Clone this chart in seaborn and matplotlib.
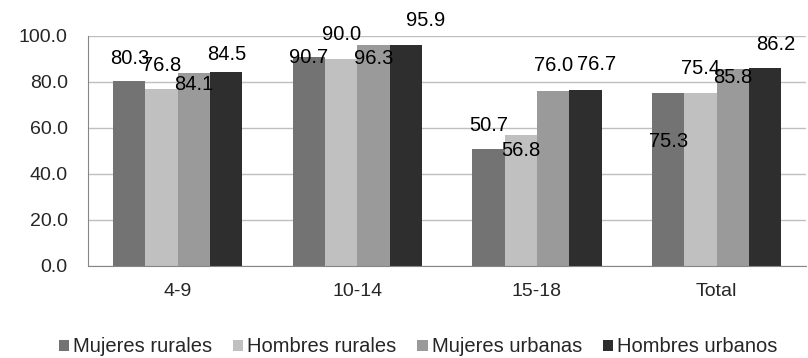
import pandas as pd
import seaborn as sns
import numpy as np
import matplotlib.pyplot as plt

groups = ['4-9', '10-14', '15-18', 'Total']
series = ['Mujeres rurales', 'Hombres rurales', 'Mujeres urbanas', 'Hombres urbanos']
mujeres_rurales = [80.3, 90.7, 50.7, 75.3]
hombres_rurales = [76.8, 90.0, 56.8, 75.4]
mujeres_urbanas = [84.1, 96.3, 76.0, 85.8]
hombres_urbanos = [84.5, 95.9, 76.7, 86.2]
colors = ['#737373', '#c0c0c0', '#9a9a9a', '#2e2e2e']

# label offsets (pixels) from the top centre of each bar, as placed in the original
label_dx = [[0, 0, 0, 0], [0, 0, 0, 20], [0, 0, 0, 11], [0, 0, 0, 11]]
label_dy = [[23, 24, -12, 17], [0, 24, -14, 25], [24, -15, 26, 25], [-49, 24, -9, 23]]

values = [mujeres_rurales, hombres_rurales, mujeres_urbanas, hombres_urbanos]
rows = []
for s, vals in zip(series, values):
    for g, v in zip(groups, vals):
        rows.append({'grupo': g, 'serie': s, 'valor': v})
df = pd.DataFrame(rows)

sns.set_style('white')
plt.rcParams['font.family'] = ['Liberation Sans', 'DejaVu Sans']

fig = plt.figure(figsize=(8.08, 3.58), dpi=100)
ax = fig.add_axes([88 / 808, 1 - 266 / 358, 1 - 88 / 808 - 0.002, 230 / 358])

sns.barplot(data=df, x='grupo', y='valor', hue='serie', order=groups, hue_order=series,
            palette=colors, width=0.72, saturation=1, linewidth=0, ax=ax, legend=True)

for j, cont in enumerate(ax.containers):
    for i, bar in enumerate(cont):
        v = values[j][i]
        ax.annotate(f'{v:.1f}', (bar.get_x() + bar.get_width() / 2, bar.get_height()),
                    xytext=(label_dx[i][j], label_dy[i][j]), textcoords='offset pixels',
                    ha='center', va='center', fontsize=14.5, color='#000000')

ax.set_ylim(0, 100)
ax.set_xlim(-0.5, 3.5)
ax.set_yticks(np.arange(0, 101, 20))
ax.set_yticklabels([f'{t:.1f}' for t in np.arange(0, 101, 20)], fontsize=14)
ax.yaxis.grid(True, color='#bfbfbf', linewidth=1)
ax.set_axisbelow(True)
ax.set_xlabel('')
ax.set_ylabel('')
ax.tick_params(axis='x', length=0, pad=12, labelsize=14)
ax.set_xticks(np.arange(-0.5, 4, 1), minor=True)
ax.tick_params(axis='x', which='minor', length=6, color='#868686', direction='out')
ax.tick_params(axis='y', length=6, color='#868686', direction='out', pad=8.5)
for side in ['top', 'right']:
    ax.spines[side].set_visible(False)
for side in ['left', 'bottom']:
    ax.spines[side].set_color('#868686')

handles, labels = ax.get_legend_handles_labels()
ax.legend_.remove()
fig.legend(handles, labels, loc='center', bbox_to_anchor=(418 / 808, 1 - 347 / 358),
           ncol=4, frameon=False, fontsize=14.5, handlelength=0.5, handleheight=0.5,
           handletextpad=0.2, columnspacing=1.05, borderaxespad=0, borderpad=0)

fig.savefig('out.png', dpi=100)
